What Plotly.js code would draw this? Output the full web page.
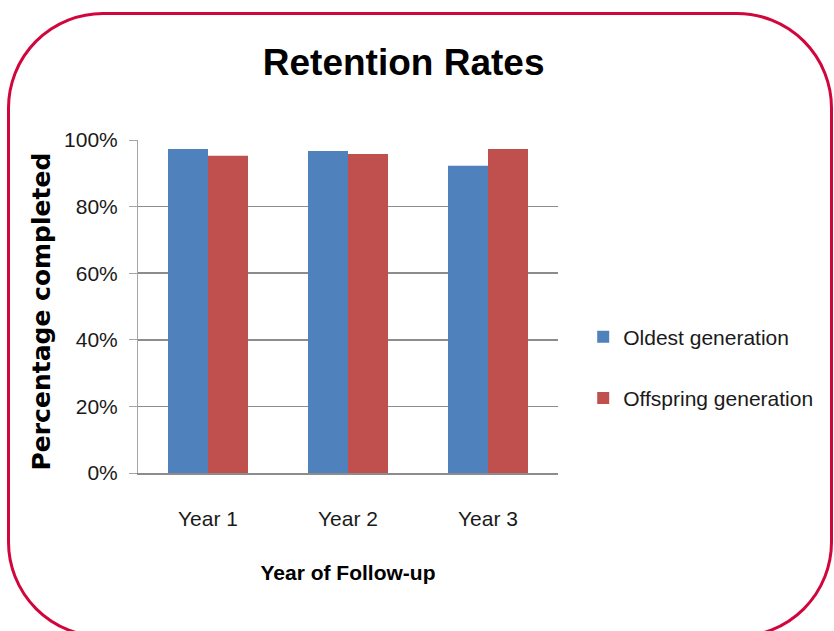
<!DOCTYPE html>
<html>
<head>
<meta charset="utf-8">
<script src="https://cdn.plot.ly/plotly-3.0.1.min.js"></script>
<style>
  html, body { margin: 0; padding: 0; background: #ffffff; }
  body { width: 834px; height: 631px; overflow: hidden; position: relative; }
  #frame {
    position: absolute; left: 7px; top: 12px; width: 820px; height: 620px;
    border: 3px solid #d1063d; border-radius: 96px; box-sizing: content-box;
  }
  #chart { position: absolute; left: 0; top: 0; width: 834px; height: 631px; }
</style>
</head>
<body>
<div id="frame"></div>
<div id="chart"></div>
<script>
const categories = ["Year 1", "Year 2", "Year 3"];
const oldestGeneration = [0.973, 0.967, 0.923];
const offspringGeneration = [0.953, 0.958, 0.973];
const seriesNames = ["Oldest generation", "Offspring generation"];
const yTickValues = [0, 0.2, 0.4, 0.6, 0.8, 1.0];
const yTickLabels = ["0%", "20%", "40%", "60%", "80%", "100%"];

const sans = '"Liberation Sans", Arial, sans-serif';

const traces = [
  {
    type: "bar", name: seriesNames[0], x: categories, y: oldestGeneration,
    marker: { color: "#4f81bd", line: { width: 0 } }, legendgroup: "a",
    hoverinfo: "x+y"
  },
  {
    type: "bar", name: seriesNames[1], x: categories, y: offspringGeneration,
    marker: { color: "#c0504d", line: { width: 0 } }, legendgroup: "b",
    hoverinfo: "x+y"
  }
];

const layout = {
  width: 834, height: 631,
  paper_bgcolor: "rgba(0,0,0,0)", plot_bgcolor: "rgba(0,0,0,0)",
  margin: { l: 138, r: 276, t: 140, b: 158, autoexpand: false },
  barmode: "group", bargap: 0.4286, bargroupgap: 0,
  font: { family: sans, size: 21, color: "#1a1a1a" },
  title: {
    text: "<b>Retention Rates</b>",
    font: { family: sans, size: 37, color: "#000" },
    x: 0.484, xref: "container", xanchor: "center",
    y: 0.902, yref: "container", yanchor: "middle"
  },
  xaxis: {
    type: "category",
    showline: true, linecolor: "#8c8c8c", linewidth: 1.5,
    ticks: "", showgrid: false,
    tickfont: { family: sans, size: 21, color: "#1a1a1a" },
    ticklabelstandoff: 26,
    title: { text: "<b>Year of Follow-up</b>", font: { family: sans, size: 21, color: "#000" }, standoff: 36 }
  },
  yaxis: {
    range: [0, 1], tickvals: yTickValues, ticktext: yTickLabels,
    showline: true, linecolor: "#a6a6a6", linewidth: 1,
    ticks: "outside", ticklen: 8, tickcolor: "#a6a6a6", tickwidth: 1,
    showgrid: true, gridcolor: "#8c8c8c", gridwidth: 1.5,
    zeroline: false,
    tickfont: { family: sans, size: 21, color: "#1a1a1a" },
    ticklabelstandoff: 7
  },
  annotations: [
    {
      text: "<b>Percentage completed</b>", textangle: -90,
      xref: "paper", yref: "paper", x: -0.2286, y: 0.485,
      xanchor: "center", yanchor: "middle", showarrow: false,
      font: { family: '"DejaVu Sans", sans-serif', size: 25, color: "#000" }
    }
  ],
  legend: {
    x: 1.06, xanchor: "left", y: 0.47, yanchor: "top",
    traceorder: "grouped", tracegroupgap: 31,
    font: { family: sans, size: 21, color: "#1a1a1a" },
    bgcolor: "rgba(0,0,0,0)"
  },
  showlegend: true
};

Plotly.newPlot("chart", traces, layout, { displayModeBar: false, staticPlot: true });
</script>
</body>
</html>
